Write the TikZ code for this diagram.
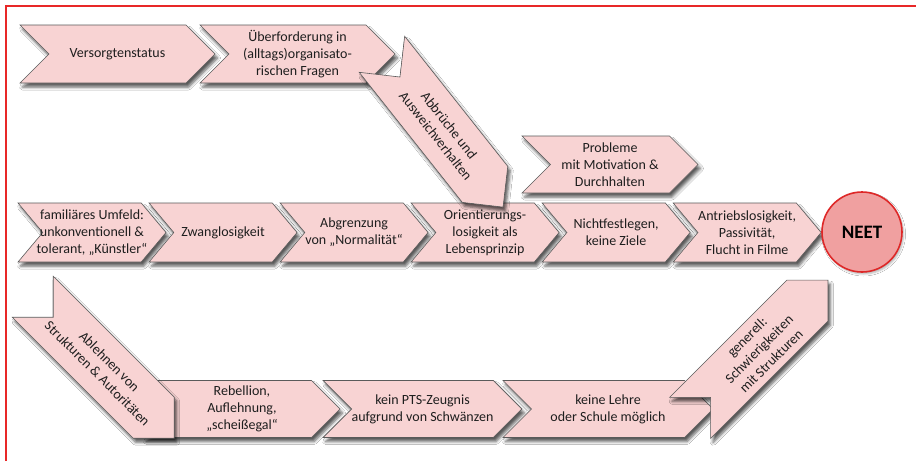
\documentclass[tikz,border=0pt]{standalone}
\usepackage{fontspec}
\setmainfont{Carlito}
\usetikzlibrary{shapes.symbols, shadows.blur, positioning}
\definecolor{chevfill}{RGB}{248,211,211}
\definecolor{chevline}{RGB}{90,90,90}
\definecolor{neetfill}{RGB}{240,160,160}
\definecolor{neetline}{RGB}{222,40,40}
\definecolor{framered}{RGB}{232,40,40}
\definecolor{txt}{RGB}{30,30,30}

\begin{document}
\begin{tikzpicture}[
    x=1pt, y=-1pt,
    chev/.style={signal, signal to=east, signal from=west, signal pointer angle=90, draw=chevline, line width=0.6pt, fill=chevfill, text=txt, align=center, inner xsep=0pt, inner ysep=1pt, font=\fontsize{14}{17}\selectfont, minimum width=195pt, minimum height=58pt, blur shadow={shadow xshift=2.5pt, shadow yshift=-4pt, shadow blur radius=3pt, shadow opacity=65}},
    midchev/.style={chev, signal pointer angle=100, inner xsep=-12pt, minimum width=148pt, minimum height=59pt},
    lowchev/.style={chev, minimum height=57pt},
    goal/.style={circle, draw=neetline, line width=1.6pt, fill=neetfill, minimum size=80pt, inner sep=0pt, font=\fontsize{19}{22}\selectfont\bfseries, text=black, blur shadow={shadow xshift=1.5pt, shadow yshift=-2pt, shadow blur radius=2pt, shadow opacity=30}}
]
    \fill[white] (0,0) rectangle (916,461);
    \useasboundingbox (0,0) rectangle (916,461);
    \draw[framered, line width=1.2pt] (6,461) -- (6,6) -- (916,6);

    \node[chev] (versorgt) at (117.5,54) {Versorgtenstatus};
    \node[chev] (ueberf) at (297.5,54) {Überforderung in\\(alltags)organisato-\\rischen Fragen};

    \node[midchev] (umfeld) at (92,232.5) {familiäres Umfeld:\\unkonventionell \&\\tolerant, „Künstler“};
    \node[midchev, right=7pt of umfeld] (zwang) {Zwanglosigkeit};
    \node[midchev, right=7pt of zwang] (abgrenz) {Abgrenzung\\von „Normalität“};
    \node[midchev, right=7pt of abgrenz] (orient) {Orientierungs-\\losigkeit als\\Lebensprinzip};
    \node[midchev, right=7pt of orient] (nichtfest) {Nichtfestlegen,\\keine Ziele};
    \node[midchev, right=7pt of nichtfest] (antrieb) {Antriebslosigkeit,\\Passivität,\\Flucht in Filme};

    \node[chev, rotate=-51.6] (abbrueche) at (442.5,130.7) {Abbrüche und\\Ausweichverhalten};
    \node[chev, minimum width=176pt, minimum height=57pt] (probleme) at (610,164.5) {Probleme\\mit Motivation \&\\Durchhalten};
    \node[goal] (neet) at (862,232) {NEET};

    \node[lowchev, minimum width=196pt] (rebell) at (242,409) {Rebellion,\\Auflehnung,\\„scheißegal“};
    \node[lowchev] (pts) at (422.5,409) {kein PTS-Zeugnis\\aufgrund von Schwänzen};
    \node[lowchev, minimum width=210pt] (lehre) at (608,409) {keine Lehre\\oder Schule möglich};
    \node[chev, rotate=-45] (ablehnen) at (103.5,367.5) {Ablehnen von\\Strukturen \& Autoritäten};
    \node[chev, rotate=45] (generell) at (759,349) {generell:\\Schwierigkeiten\\mit Strukturen};
\end{tikzpicture}
\end{document}
